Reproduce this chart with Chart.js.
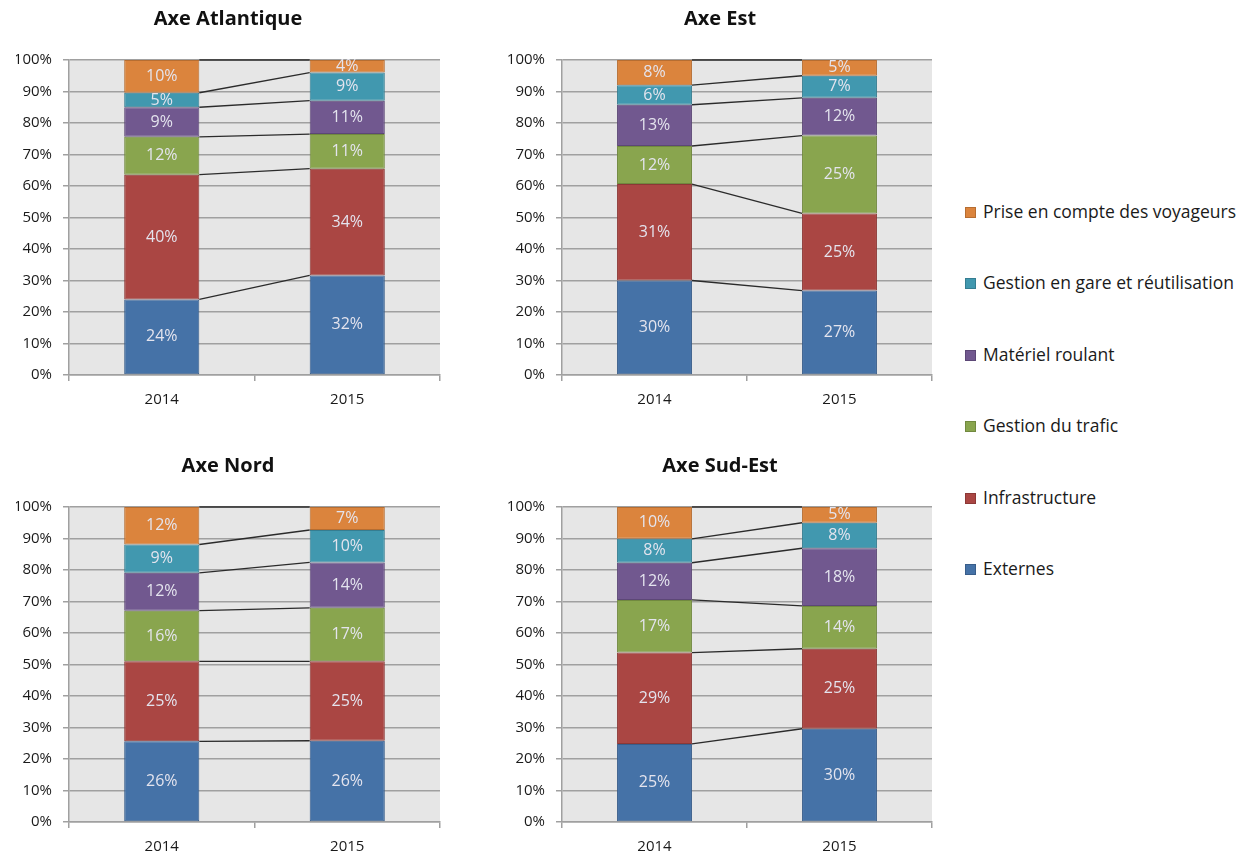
<!DOCTYPE html>
<html>
<head>
<meta charset="utf-8">
<script src="https://cdn.jsdelivr.net/npm/chart.js@4.4.1/dist/chart.umd.min.js"></script>
<style>
  html, body { margin: 0; padding: 0; background: #fff; overflow: hidden; }
  #wrap { position: relative; width: 1251px; height: 854px; }
  .panel { position: absolute; }
  #legend { position: absolute; left: 965px; top: 200px; font-family: "Open Sans", sans-serif; font-size: 17.5px; color: #1a1a1a; }
  .item { position: absolute; left: 0; white-space: nowrap; height: 22px; line-height: 22px; }
  .item span.box { display: inline-block; width: 9px; height: 9px; margin-right: 7px; vertical-align: 0px; }
</style>
</head>
<body>
<div id="wrap">
  <div class="panel" style="left:0;top:0;width:456px;height:420px"><canvas id="c0"></canvas></div>
  <div class="panel" style="left:492px;top:0;width:456px;height:420px"><canvas id="c1"></canvas></div>
  <div class="panel" style="left:0;top:447px;width:456px;height:407px"><canvas id="c2"></canvas></div>
  <div class="panel" style="left:492px;top:447px;width:456px;height:407px"><canvas id="c3"></canvas></div>
  <div id="legend"></div>
</div>
<script>
const categories = ["2014", "2015"];
const seriesNames = ["Externes", "Infrastructure", "Gestion du trafic", "Matériel roulant",
  "Gestion en gare et réutilisation", "Prise en compte des voyageurs"];
const panelTitles = ["Axe Atlantique", "Axe Est", "Axe Nord", "Axe Sud-Est"];
const yTicks = [0, 10, 20, 30, 40, 50, 60, 70, 80, 90, 100];

// share per series (Externes -> Prise en compte), [2014, 2015]
const axeAtlantique = [[24.0, 31.6], [39.6, 33.9], [12.0, 11.0], [9.4, 10.6], [4.6, 8.9], [10.4, 4.0]];
const axeEst = [[30.0, 26.8], [30.6, 24.5], [12.1, 24.7], [13.1, 12.0], [6.2, 7.0], [8.0, 5.0]];
const axeNord = [[25.6, 25.8], [25.4, 25.2], [16.1, 17.0], [12.0, 14.4], [9.0, 10.3], [11.9, 7.3]];
const axeSudEst = [[24.8, 29.6], [29.0, 25.4], [16.7, 13.6], [11.8, 18.3], [7.6, 8.1], [10.1, 5.0]];

const colors = ["#4572a7", "#aa4643", "#89a54e", "#71588f", "#4198af", "#db843d"];
const borders = ["#385d8a", "#8c3836", "#71893f", "#5c4776", "#357d91", "#b66d31"];

const panels = [axeAtlantique, axeEst, axeNord, axeSudEst];
const FONT = "'Open Sans', sans-serif";

// grey plot background
const plotBg = {
  id: "plotBg",
  beforeDraw(chart) {
    const a = chart.chartArea, c = chart.ctx;
    c.save();
    c.fillStyle = "#e6e6e6";
    c.fillRect(a.left, a.top, a.right - a.left, a.bottom - a.top);
    c.restore();
  }
};

// series lines between stacked bars + value labels
const seriesLines = {
  id: "seriesLines",
  afterDatasetsDraw(chart) {
    const c = chart.ctx;
    c.save();
    c.strokeStyle = "#2b2b2b";
    c.lineWidth = 1.3;
    chart.data.datasets.forEach((ds, i) => {
      const bars = chart.getDatasetMeta(i).data;
      const b0 = bars[0], b1 = bars[1];
      c.beginPath();
      c.moveTo(b0.x + b0.width / 2, b0.y);
      c.lineTo(b1.x - b1.width / 2, b1.y);
      c.stroke();
    });
    c.fillStyle = "#e4e4ee";
    c.font = "16px " + FONT;
    c.textAlign = "center";
    c.textBaseline = "middle";
    chart.data.datasets.forEach((ds, i) => {
      chart.getDatasetMeta(i).data.forEach((bar, j) => {
        c.fillText(Math.round(ds.data[j]) + "%", bar.x, (bar.y + bar.base) / 2);
      });
    });
    c.restore();
  }
};

panels.forEach((values, p) => {
  const bottomRow = p >= 2;
  new Chart(document.getElementById("c" + p), {
    type: "bar",
    data: {
      labels: categories,
      datasets: seriesNames.map((name, i) => ({
        label: name,
        data: values[i],
        backgroundColor: colors[i],
        borderColor: borders[i],
        borderWidth: 1,
        borderSkipped: false,
        barPercentage: 0.405,
        categoryPercentage: 1
      }))
    },
    options: {
      responsive: true,
      maintainAspectRatio: false,
      animation: false,
      layout: { padding: { left: 16, right: 16, top: 0, bottom: 0 } },
      plugins: {
        legend: { display: false },
        tooltip: { enabled: false },
        title: {
          display: true,
          text: panelTitles[p],
          color: "#111",
          font: { size: 20, weight: "bold", family: FONT },
          padding: { top: 7, bottom: 29 }
        }
      },
      scales: {
        x: {
          stacked: true,
          grid: { display: true, drawOnChartArea: false, offset: true, color: "#a0a0a0", lineWidth: 1.5, tickLength: 6 },
          border: { color: "#a0a0a0", width: 1.5 },
          ticks: { color: "#1a1a1a", font: { size: 15, family: FONT }, padding: 10 },
          afterFit: s => { s.height = bottomRow ? 32 : 45; }
        },
        y: {
          stacked: true,
          min: 0,
          max: 100,
          afterBuildTicks: s => { s.ticks = yTicks.map(v => ({ value: v })); },
          grid: { color: "#a0a0a0", lineWidth: 1.5, tickLength: 6 },
          border: { color: "#a0a0a0", width: 1.5 },
          ticks: { color: "#1a1a1a", font: { size: 15, family: FONT }, padding: 11, callback: v => v + "%" },
          afterFit: s => { s.width = p % 2 ? 54 : 53; }
        }
      }
    },
    plugins: [plotBg, seriesLines]
  });
});

// legend, top entry = last series
const legend = document.getElementById("legend");
seriesNames.slice().reverse().forEach((name, k) => {
  const i = seriesNames.length - 1 - k;
  const d = document.createElement("div");
  d.className = "item";
  d.style.top = (k * 71.4) + "px";
  d.innerHTML = '<span class="box" style="background:' + colors[i] + ';border:1px solid ' + borders[i] + '"></span>' + name;
  legend.appendChild(d);
});
</script>
</body>
</html>
